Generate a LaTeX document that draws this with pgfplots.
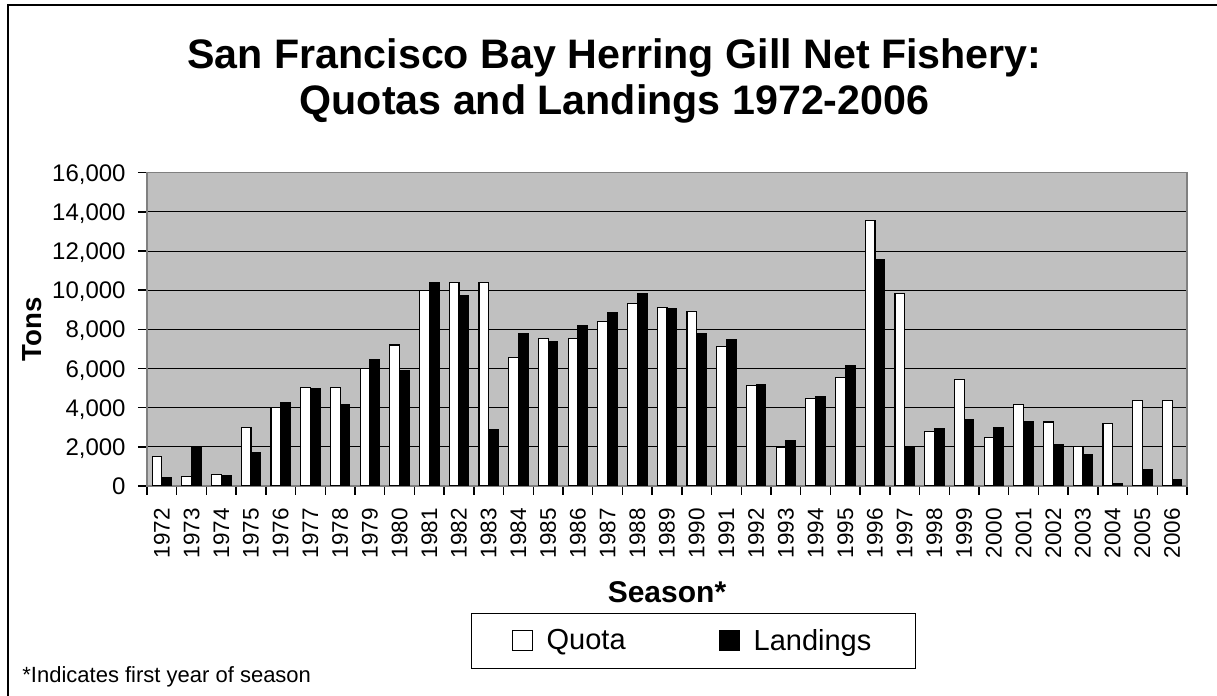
\documentclass[border=0pt]{standalone}
\usepackage{fontspec}
\setmainfont{Liberation Sans}
\usepackage{pgfplots}
\pgfplotsset{compat=1.18}
\definecolor{plotgrey}{HTML}{C0C0C0}
\definecolor{edgegrey}{HTML}{808080}

% quota and landings in tons, one row per season (0 = 1972)
\pgfplotstableread{
x quota landings
0  1500   430
1   500  2000
2   600   530
3  3000  1720
4  4000  4270
5  5050  4970
6  5050  4170
7  6000  6470
8  7200  5870
9  10000 10400
10 10400  9740
11 10400  2890
12  6550  7760
13  7540  7370
14  7540  8170
15  8410  8830
16  9330  9840
17  9120  9040
18  8920  7760
19  7110  7460
20  5140  5160
21  1990  2300
22  4460  4580
23  5550  6160
24 13550 11540
25  9820  2030
26  2770  2910
27  5450  3400
28  2490  3000
29  4170  3300
30  3270  2130
31  2010  1620
32  3180   100
33  4370   820
34  4370   320
}\herring

\begin{document}
\begin{tikzpicture}
\useasboundingbox (0,0) rectangle (608.5pt,348pt);
\draw[line width=0.8pt] (4pt,-20pt) -- (4pt,345.5pt) -- (640pt,345.5pt);
\node[font=\fontsize{20.6}{24}\selectfont\bfseries, anchor=base, inner sep=0pt]
  at (307.25pt,313.5pt) {San Francisco Bay Herring Gill Net Fishery:};
\node[font=\fontsize{20.6}{24}\selectfont\bfseries, anchor=base, inner sep=0pt]
  at (307.25pt,290.5pt) {Quotas and Landings 1972-2006};
\node[font=\fontsize{11}{13}\selectfont, anchor=base west, inner sep=0pt]
  at (11pt,6.5pt) {*Indicates first year of season};
\begin{axis}[
  at={(73.5pt,105pt)}, anchor=south west,
  scale only axis, width=520pt, height=156.65pt,
  xmin=-0.5, xmax=34.5, ymin=0, ymax=16000,
  enlarge x limits=false,
  axis background/.style={fill=plotgrey},
  axis line style={edgegrey, line width=0.6pt},
  ytick={0,2000,...,16000},
  ymajorgrids, grid style={black, line width=0.5pt},
  % tick marks sit between seasons; each label is moved half a season right
  xtick={-0.5,0.5,...,34.5},
  xticklabels={1972,1973,1974,1975,1976,1977,1978,1979,1980,1981,1982,1983,1984,1985,1986,1987,1988,1989,1990,1991,1992,1993,1994,1995,1996,1997,1998,1999,2000,2001,2002,2003,2004,2005,2006,{}},
  tick style={draw=black, line width=0.75pt},
  major tick length=4.5pt,
  tick align=outside,
  xtick pos=bottom, ytick pos=left,
  scaled y ticks=false,
  /pgf/number format/.cd, 1000 sep={,}, assume math mode=true, /pgfplots/.cd,
  yticklabel style={font=\fontsize{12}{14}\selectfont, anchor=base east, inner sep=0pt, yshift=-4.3pt, xshift=-6pt},
  xticklabel style={font=\fontsize{11.25}{13}\selectfont, rotate=90, anchor=east, inner sep=0pt, xshift=-6.5pt, yshift=-7.43pt},
  ylabel={Tons},
  ylabel style={font=\fontsize{13.8}{16}\selectfont\bfseries, at={(axis description cs:-0.1106,0.5)}, anchor=center, rotate=0},
  xlabel={Season*},
  xlabel style={font=\fontsize{15}{18}\selectfont\bfseries, at={(axis description cs:0.5,-0.3725)}, anchor=base},
  legend columns=2,
  legend style={at={(axis description cs:0.5255,-0.4054)}, anchor=north,
    draw=black, line width=0.6pt, font=\fontsize{14.5}{17}\selectfont,
    inner xsep=20pt, inner ysep=5.7pt,
    /tikz/every odd column/.append style={column sep=5pt},
    /tikz/every even column/.append style={column sep=44.5pt}},
]
\addplot[ybar, bar width=4.85pt, bar shift=-2.425pt,
  fill=white, draw=black, line width=0.6pt,
  legend image code/.code={\draw[fill=white, draw=black, line width=0.5pt] (0pt,-4.5pt) rectangle (10pt,5.5pt);}]
  table[x=x, y=quota] {\herring};
\addplot[ybar, bar width=4.85pt, bar shift=2.425pt,
  fill=black, draw=black, line width=0.6pt,
  legend image code/.code={\draw[fill=black, draw=black, line width=0.5pt] (0pt,-4.5pt) rectangle (10pt,5.5pt);}]
  table[x=x, y=landings] {\herring};
\legend{Quota, Landings}
\end{axis}
\end{tikzpicture}
\end{document}
